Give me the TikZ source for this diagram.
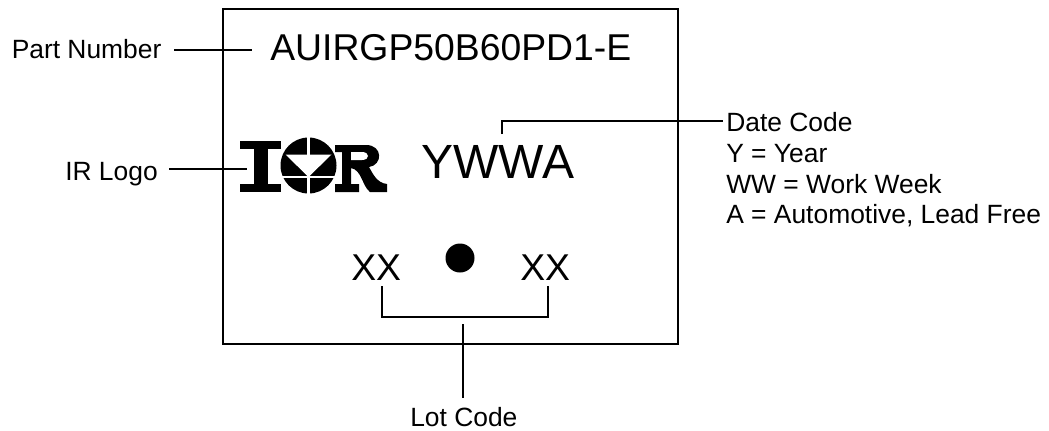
\documentclass[tikz,border=0pt]{standalone}
\usepackage{fontspec}
\setmainfont{Liberation Sans}
\tikzset{
  lbl/.style={inner sep=0pt,font=\fontsize{19.8pt}{24pt}\selectfont,anchor=base west},
  big/.style={inner sep=0pt,anchor=base west,font=\fontsize{28pt}{32pt}\selectfont},
  huge/.style={inner sep=0pt,anchor=base west,font=\fontsize{36pt}{42pt}\selectfont},
  conn/.style={draw=black,line width=1.1pt},
}
\begin{document}
\begin{tikzpicture}[x=0.75pt,y=-0.75pt]
\useasboundingbox (0,0) rectangle (1049,430);
\fill[white] (0,0) rectangle (1049,430);
\node[conn,inner sep=0pt,minimum width=341.25pt,minimum height=251.25pt] (box) at (450.5,176.5) {};
% texts
\node[lbl] (part) at (11.5,58) {Part Number};
\node[big] (pn) at (270,60) {AUIRGP50B60PD1-E};
\node[lbl] (logo) at (65,180) {IR Logo};
\node[huge] (yw) at (421,178) {YWWA};
\node[lbl] (date) at (726,131.5) {Date Code};
\node[lbl] (y) at (726,162) {Y = Year};
\node[lbl] (ww) at (726,193) {WW = Work Week};
\node[lbl] (a) at (726,223.5) {A = Automotive, Lead Free};
\node[big] (x1) at (351,280) {XX};
\node[big] (x2) at (520,280) {XX};
\node[lbl] (lot) at (410,426) {Lot Code};
\node[circle,fill=black,inner sep=0pt,minimum size=21.75pt] (dot) at (460,258) {};
% connectors
\coordinate (p1) at (174,50);
\coordinate (p2) at (252,50);
\draw[conn] (p1) -- (p2);
\coordinate (l1) at (169,169);
\coordinate (l2) at (247,169);
\draw[conn] (l1) -- (l2);
\coordinate (d1) at (502,134);
\coordinate (d2) at (502,121);
\coordinate (d3) at (723,121);
\draw[conn] (d1) -- (d2) -- (d3);
\coordinate (b1) at (382,286);
\coordinate (b2) at (382,317);
\coordinate (b3) at (548,317);
\coordinate (b4) at (548,286);
\draw[conn] (b1) -- (b2) -- (b3) -- (b4);
\coordinate (v1) at (463,324);
\coordinate (v2) at (463,398);
\draw[conn] (v1) -- (v2);
% logo
\fill[black] (240,141) rectangle (281,149);
\fill[black] (240,184) rectangle (281,192);
\fill[black] (254,141) rectangle (268,192);
\fill[black] (308.5,165.5) circle (28);
\fill[white] (285.5,154.5) -- (331.5,154.5) -- (308.5,177) -- cycle;
\fill[white] (307.2,135) rectangle (309.8,197);
\fill[white] (279,175.7) rectangle (338,178);
\fill[black] (335,145) -- (366,145) .. controls (383,145) and (383,165) .. (369,167) .. controls (373,174) and (377,183) .. (387,184) -- (387,192) -- (370,192) .. controls (362,186) and (362,170) .. (351,168) -- (351,184) -- (359,184) -- (359,192) -- (335,192) -- (335,184) -- (342,184) -- (342,152) -- (335,152) -- cycle;
\fill[white] (351,152) -- (362,152) .. controls (370,152) and (370,160) .. (362,160) -- (351,160) -- cycle;
\end{tikzpicture}
\end{document}
